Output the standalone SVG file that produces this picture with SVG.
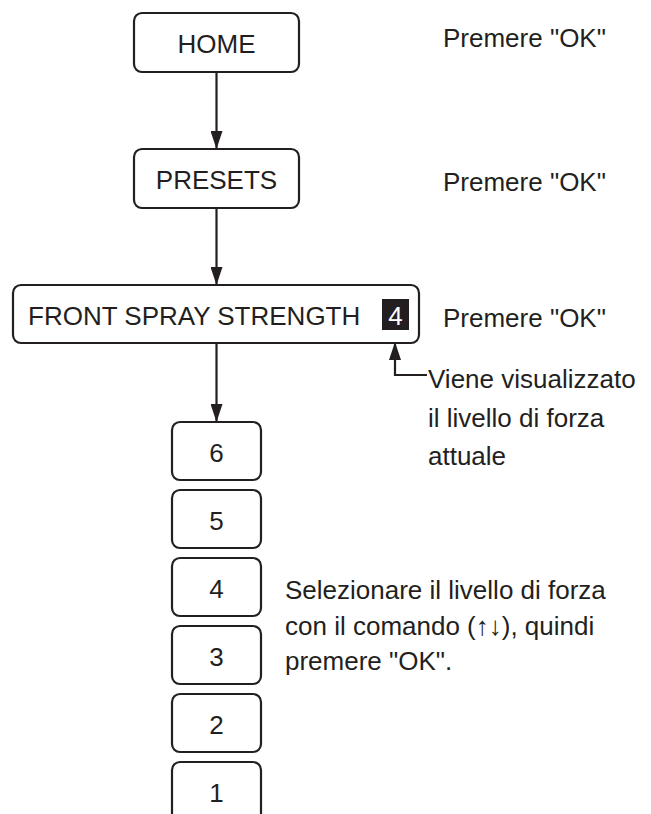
<svg xmlns="http://www.w3.org/2000/svg" width="651" height="814" viewBox="0 0 651 814">
<style>
.box{fill:#fff;stroke:#231f20;stroke-width:2.2}
.t{font-family:"Liberation Sans",Arial,sans-serif;font-size:26px;fill:#231f20}
.c{text-anchor:middle}
.ln{fill:none;stroke:#231f20;stroke-width:2.2}
</style>
<defs>
<marker id="ah" viewBox="0 0 18 12" refX="18" refY="6" markerWidth="18" markerHeight="12" markerUnits="userSpaceOnUse" orient="auto">
<path d="M0,0 L18,6 L0,12 Z" fill="#231f20"/>
</marker>
</defs>
<rect width="651" height="814" fill="#fff"/>
<g id="connectors">
<line class="ln" x1="216.5" y1="72" x2="216.5" y2="149" marker-end="url(#ah)"/>
<line class="ln" x1="216.5" y1="208" x2="216.5" y2="285" marker-end="url(#ah)"/>
<line class="ln" x1="216.5" y1="343" x2="216.5" y2="422" marker-end="url(#ah)"/>
<polyline class="ln" points="427,375 395,375 395,342" marker-end="url(#ah)"/>
</g>
<g id="home">
<rect class="box" x="134" y="13" width="165" height="59" rx="8"/>
<text class="t c" x="216.5" y="53">HOME</text>
</g>
<g id="presets">
<rect class="box" x="134" y="149" width="165" height="59" rx="8"/>
<text class="t c" x="216.5" y="189">PRESETS</text>
</g>
<g id="front">
<rect class="box" x="13" y="285" width="406" height="58" rx="8"/>
<text class="t" x="28" y="325">FRONT SPRAY STRENGTH</text>
<rect x="382" y="299" width="27" height="31" fill="#231f20"/>
<text class="t c" x="395.5" y="325" style="fill:#fff">4</text>
</g>
<g id="ok1"><text class="t" x="443" y="47">Premere "OK"</text></g>
<g id="ok2"><text class="t" x="443" y="191">Premere "OK"</text></g>
<g id="ok3"><text class="t" x="443" y="327">Premere "OK"</text></g>
<g id="note">
<text class="t" x="428" y="388">Viene visualizzato</text>
<text class="t" x="428" y="427">il livello di forza</text>
<text class="t" x="428" y="465">attuale</text>
</g>
<g id="l6"><rect class="box" x="172" y="422" width="89" height="58" rx="8"/><text class="t c" x="216.5" y="462">6</text></g>
<g id="l5"><rect class="box" x="172" y="490" width="89" height="58" rx="8"/><text class="t c" x="216.5" y="530">5</text></g>
<g id="l4"><rect class="box" x="172" y="558" width="89" height="58" rx="8"/><text class="t c" x="216.5" y="598">4</text></g>
<g id="l3"><rect class="box" x="172" y="626" width="89" height="58" rx="8"/><text class="t c" x="216.5" y="666">3</text></g>
<g id="l2"><rect class="box" x="172" y="694" width="89" height="58" rx="8"/><text class="t c" x="216.5" y="734">2</text></g>
<g id="l1"><rect class="box" x="172" y="762" width="89" height="80" rx="8"/><text class="t c" x="216.5" y="802">1</text></g>
<g id="instr">
<text class="t" x="285" y="599">Selezionare il livello di forza</text>
<text class="t" x="285" y="635">con il comando (↑↓), quindi</text>
<text class="t" x="285" y="670">premere "OK".</text>
</g>
</svg>
